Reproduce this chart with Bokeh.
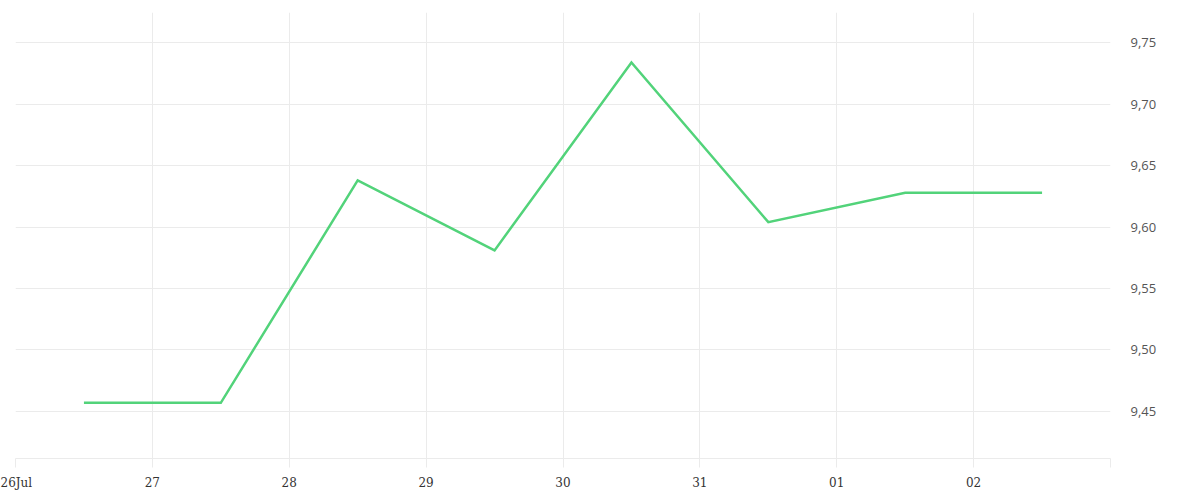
from datetime import datetime
from bokeh.plotting import figure
from bokeh.models import Range1d, FixedTicker, CustomJSTickFormatter, DatetimeTickFormatter
from bokeh.embed import file_html
from bokeh.resources import INLINE

# data: points at midday of each day
dates = [datetime(2024, 7, 26, 12), datetime(2024, 7, 27, 12), datetime(2024, 7, 28, 12),
         datetime(2024, 7, 29, 12), datetime(2024, 7, 30, 12), datetime(2024, 7, 31, 12),
         datetime(2024, 8, 1, 12), datetime(2024, 8, 2, 12)]
values = [9.457, 9.457, 9.638, 9.581, 9.734, 9.604, 9.628, 9.628]

tick_days = [datetime(2024, 7, 26), datetime(2024, 7, 27), datetime(2024, 7, 28),
             datetime(2024, 7, 29), datetime(2024, 7, 30), datetime(2024, 7, 31),
             datetime(2024, 8, 1), datetime(2024, 8, 2), datetime(2024, 8, 3)]
tick_labels = ["26Jul", "27", "28", "29", "30", "31", "01", "02", ""]
y_ticks = [9.45, 9.50, 9.55, 9.60, 9.65, 9.70, 9.75]

GRID = "#ebebeb"

def ms(d):
    return (d - datetime(1970, 1, 1)).total_seconds() * 1000.0

tick_ms = [ms(d) for d in tick_days]

p = figure(width=1200, height=500, x_axis_type="datetime", y_axis_location="right",
           output_backend="svg", toolbar_location=None,
           x_range=Range1d(tick_ms[0], tick_ms[-1]),
           y_range=Range1d(9.4117, 9.7746),
           min_border_left=15, min_border_top=12, min_border_right=90, min_border_bottom=42)
p.outline_line_color = None
p.background_fill_color = "white"
p.border_fill_color = "white"

p.line(dates, values, line_color="#52d37a", line_width=2.5, line_join="miter")

p.xaxis.ticker = FixedTicker(ticks=tick_ms)
p.xaxis.formatter = DatetimeTickFormatter(days="%d")
p.xaxis.major_label_overrides = {t: lab for t, lab in zip(tick_ms, tick_labels)}
p.xaxis.axis_line_color = GRID
p.xaxis.major_tick_line_color = GRID
p.xaxis.major_tick_out = 9
p.xaxis.major_tick_in = 0
p.xaxis.minor_tick_line_color = None
p.xaxis.major_label_standoff = 8
p.xaxis.major_label_text_font = "DejaVu Serif"
p.xaxis.major_label_text_font_size = "12px"
p.xaxis.major_label_text_color = "#333333"

p.yaxis.ticker = FixedTicker(ticks=y_ticks)
p.yaxis.formatter = CustomJSTickFormatter(code="return tick.toFixed(2).replace('.', ',');")
p.yaxis.axis_line_color = None
p.yaxis.major_tick_line_color = None
p.yaxis.minor_tick_line_color = None
p.yaxis.major_label_standoff = 14
p.yaxis.major_label_text_font = "Open Sans"
p.yaxis.major_label_text_font_size = "13px"
p.yaxis.major_label_text_color = "#555555"

p.xgrid.grid_line_color = GRID
p.ygrid.grid_line_color = GRID
p.xgrid.ticker = FixedTicker(ticks=tick_ms)
p.ygrid.ticker = FixedTicker(ticks=y_ticks)

open("out.html", "w").write(file_html(p, INLINE))
